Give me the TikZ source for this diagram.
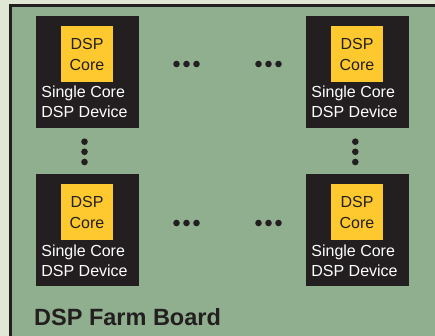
\documentclass[tikz,border=0pt]{standalone}
\usepackage{fontspec}
\setmainfont{Liberation Sans}
\definecolor{bgpale}{HTML}{E0E8D5}
\definecolor{board}{HTML}{8FAF8E}
\definecolor{ink}{HTML}{231F20}
\definecolor{coreyel}{HTML}{FDC92F}
\tikzset{
  device/.style={fill=ink, draw=none, minimum width=103pt, minimum height=112pt, inner sep=0pt},
  core/.style={fill=coreyel, draw=none, minimum width=52pt, minimum height=56pt, inner sep=0pt,
    font=\fontsize{16}{21}\selectfont, text=ink, align=center},
  devlabel/.style={text=white, font=\fontsize{16}{20}\selectfont, align=left, inner sep=0pt},
  dotmark/.style={fill=ink, draw=none, circle, minimum size=6.6pt, inner sep=0pt},
  title/.style={font=\fontsize{23.5}{26}\selectfont\bfseries, text=ink, anchor=base west, inner sep=0pt}
}
\begin{document}
\begin{tikzpicture}[x=1pt,y=-1pt]
\useasboundingbox (0,0) rectangle (435,336);
\fill[bgpale] (0,0) rectangle (435,336);
\fill[board] (10.5,5.5) rectangle (436,337);
\draw[ink, line width=2.5pt] (10.5,337) -- (10.5,5.5) -- (436,5.5);
% devices
\foreach \n/\cx/\cy in {tl/87.5/72, tr/357.5/72, bl/87.5/230, br/357.5/230}{
  \node[device] (\n) at (\cx,\cy) {};
  \node[core] (\n core) at (\cx-0.5,\cy-18) {DSP\\Core};
  \node[devlabel, anchor=base] (\n lab) at (\cx-3,\cy+46) {Single Core\\DSP Device};
}
% horizontal dots
\foreach \y/\r in {64/t, 223/b}{
  \foreach \x/\i in {176.5/1,186.5/2,196.5/3,258.5/4,268.5/5,278.5/6}{
    \node[dotmark] (h\r\i) at (\x,\y) {};
  }
}
% vertical dots
\foreach \x/\r in {84.5/l, 355.3/r}{
  \foreach \y/\i in {141.7/1,151.8/2,162/3}{
    \node[dotmark] (v\r\i) at (\x,\y) {};
  }
}
\node[title] (ttl) at (34,325) {DSP Farm Board};
\end{tikzpicture}
\end{document}
